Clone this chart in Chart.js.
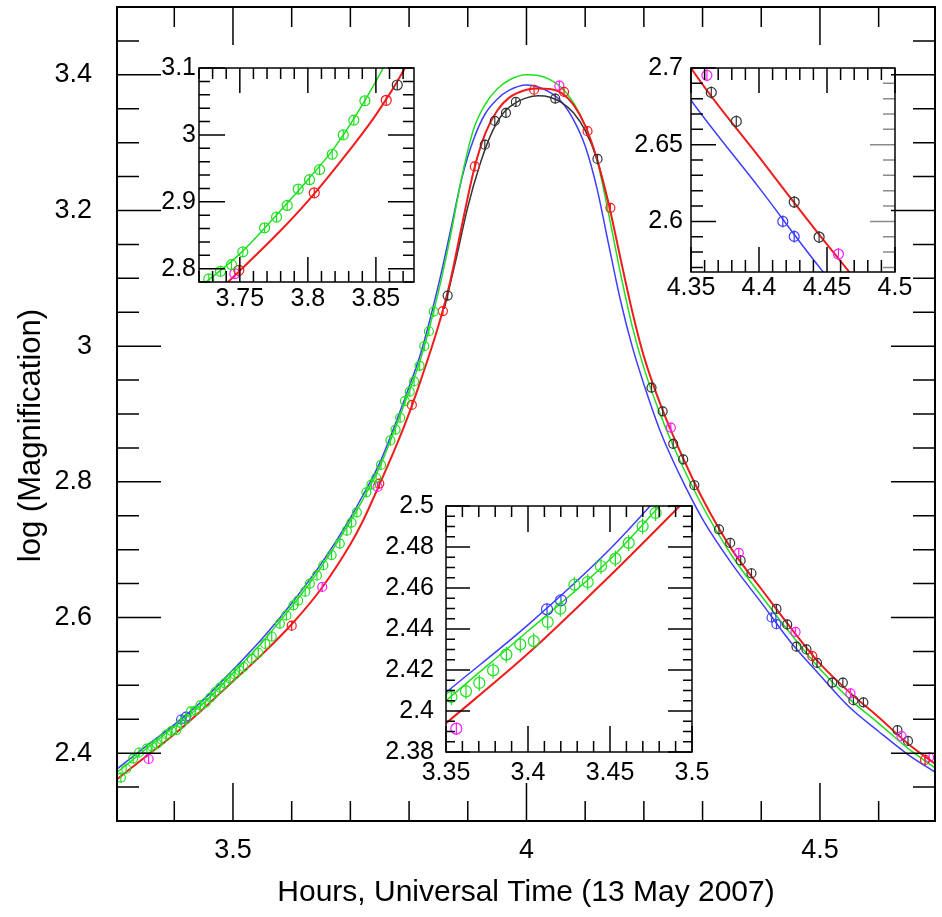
<!DOCTYPE html>
<html>
<head>
<meta charset="utf-8">
<title>log (Magnification)</title>
<script src="https://cdn.jsdelivr.net/npm/chart.js@4.4.1/dist/chart.umd.min.js"></script>
<style>
  body { margin: 0; background: #fff; }
  #plot { position: relative; width: 942px; height: 917px; }
  #plot canvas { position: absolute; }
</style>
</head>
<body>
<div id="plot">
  <canvas id="mainChart" width="942" height="917" style="left:0;top:0"></canvas>
  <canvas id="insetRise" width="282" height="270" style="left:145px;top:48px"></canvas>
  <canvas id="insetFall" width="317" height="260" style="left:625px;top:48px"></canvas>
  <canvas id="insetWing" width="346" height="302" style="left:376px;top:486px"></canvas>
</div>
<script>
// model curves (hours UT -> log magnification)
const tModel = [3.30, 3.35, 3.40, 3.45, 3.50, 3.55, 3.60, 3.65, 3.70, 3.72, 3.75, 3.78, 3.80, 3.82, 3.85,
  3.87, 3.89, 3.91, 3.93, 3.95, 3.97, 4.00, 4.02, 4.04, 4.06, 4.08, 4.10, 4.12, 4.14, 4.16,
  4.18, 4.20, 4.23, 4.26, 4.30, 4.35, 4.40, 4.45, 4.50, 4.55, 4.60, 4.65, 4.70];
const logBlue = [2.375, 2.409, 2.442, 2.479, 2.523, 2.569, 2.621, 2.679, 2.747, 2.778, 2.828, 2.893, 2.940, 2.990, 3.090,
  3.168, 3.248, 3.305, 3.343, 3.364, 3.377, 3.385, 3.382, 3.374, 3.360, 3.334, 3.295, 3.233, 3.150, 3.068,
  3.000, 2.944, 2.870, 2.812, 2.745, 2.679, 2.622, 2.564, 2.515, 2.468, 2.432, 2.398, 2.370];
const logGreen = [2.370, 2.405, 2.439, 2.474, 2.518, 2.564, 2.616, 2.674, 2.742, 2.772, 2.822, 2.887, 2.933, 2.982, 3.080,
  3.160, 3.250, 3.320, 3.357, 3.379, 3.392, 3.400, 3.399, 3.393, 3.381, 3.359, 3.325, 3.275, 3.195, 3.108,
  3.030, 2.968, 2.895, 2.834, 2.764, 2.691, 2.632, 2.576, 2.524, 2.480, 2.444, 2.407, 2.376];
const logRed = [2.360, 2.394, 2.428, 2.466, 2.506, 2.546, 2.590, 2.642, 2.708, 2.740, 2.797, 2.857, 2.901, 2.950, 3.030,
  3.095, 3.178, 3.258, 3.314, 3.347, 3.366, 3.378, 3.380, 3.379, 3.373, 3.356, 3.325, 3.276, 3.210, 3.130,
  3.052, 2.985, 2.910, 2.848, 2.775, 2.700, 2.642, 2.585, 2.532, 2.490, 2.453, 2.414, 2.382];
const tBlack = [3.86, 3.88, 3.90, 3.92, 3.94, 3.96, 3.98, 4.00, 4.02, 4.04, 4.06, 4.08, 4.10, 4.12, 4.14];
const logBlack = [3.055, 3.128, 3.205, 3.266, 3.313, 3.343, 3.358, 3.366, 3.369, 3.367, 3.359, 3.344, 3.318, 3.276, 3.210];

// observations
const tGreenObs = [3.309, 3.318, 3.330, 3.340, 3.3533, 3.3622, 3.3703, 3.3787, 3.3868, 3.3953, 3.4035, 3.4120, 3.4197, 3.4283,
  3.4364, 3.4445, 3.4533, 3.4614, 3.4699, 3.4778, 3.486, 3.495, 3.503, 3.511, 3.518, 3.532, 3.543, 3.555, 3.566, 3.580,
  3.591, 3.603, 3.611, 3.623, 3.631, 3.643, 3.654, 3.668, 3.682, 3.694, 3.702, 3.711, 3.7272, 3.7358, 3.7439, 3.7522,
  3.7682, 3.7770, 3.7848, 3.7929, 3.8012, 3.8086, 3.8179, 3.8260, 3.8338, 3.8419];
const logGreenObs = [2.364, 2.377, 2.392, 2.401, 2.4068, 2.4096, 2.4137, 2.4198, 2.4275, 2.4325, 2.4341, 2.4434, 2.4499, 2.4616,
  2.4629, 2.4706, 2.4743, 2.4820, 2.4901, 2.4966, 2.503, 2.510, 2.516, 2.522, 2.527, 2.539, 2.548, 2.561, 2.572, 2.591,
  2.603, 2.618, 2.625, 2.638, 2.650, 2.662, 2.677, 2.692, 2.709, 2.728, 2.740, 2.755, 2.7846, 2.796, 2.806, 2.825,
  2.861, 2.877, 2.8945, 2.919, 2.933, 2.948, 2.971, 3.000, 3.022, 3.051];
const tRedObs = [3.600, 3.7493, 3.8047, 3.8576, 3.912, 4.013, 4.064, 4.104, 4.143, 4.487, 4.679];
const logRedObs = [2.588, 2.7975, 2.9134, 3.0517, 3.265, 3.378, 3.375, 3.317, 3.204, 2.543, 2.390];
const tMagentaObs = [3.3563, 3.652, 3.7463, 4.056, 4.246, 4.3617, 4.4584, 4.552, 4.639, 4.686];
const logMagentaObs = [2.3914, 2.645, 2.7925, 3.384, 2.880, 2.6952, 2.5787, 2.488, 2.425, 2.394];
const tBlueObs = [3.4116, 3.4201, 4.4175, 4.4259];
const logBlueObs = [2.4496, 2.4540, 2.600, 2.5902];
const tBlackObs = [3.8657, 3.929, 3.946, 3.965, 3.982, 4.049, 4.121, 4.213, 4.232, 4.250, 4.267, 4.286, 4.328, 4.347,
  4.3649, 4.3833, 4.4259, 4.4442, 4.460, 4.477, 4.495, 4.521, 4.539, 4.557, 4.574, 4.632, 4.650];
const logBlackObs = [3.0746, 3.297, 3.332, 3.344, 3.360, 3.365, 3.276, 2.939, 2.904, 2.856, 2.833, 2.795, 2.730, 2.710,
  2.6841, 2.6652, 2.6126, 2.5898, 2.557, 2.553, 2.533, 2.504, 2.504, 2.478, 2.475, 2.434, 2.418];

const RED = '#f01c1c', GREEN = '#1fe01f', BLUE = '#3d3dff', BLACK = '#333333', MAGENTA = '#ff1aff';

Chart.defaults.font.family = "'Liberation Sans', Arial, sans-serif";
Chart.defaults.color = '#000';

// frame with ticks drawn inside the box on all four sides
const frameTicks = {
    id: 'frameTicks',
    afterDatasetsDraw(chart, args, o) {
        const { ctx, chartArea: a } = chart;
        const sx = chart.scales.x, sy = chart.scales.y;
        ctx.save();
        ctx.lineWidth = o.tickWidth;
        ctx.strokeStyle = '#000';
        ctx.beginPath();
        sx.ticks.forEach(t => {
            const p = sx.getPixelForValue(t.value);
            const len = t.label ? o.xMajor : o.xMinor;
            ctx.moveTo(p, a.bottom); ctx.lineTo(p, a.bottom - len);
            ctx.moveTo(p, a.top); ctx.lineTo(p, a.top + len);
        });
        sy.ticks.forEach(t => {
            const p = sy.getPixelForValue(t.value);
            const len = t.label ? o.yMajor : o.yMinor;
            ctx.moveTo(a.left, p); ctx.lineTo(a.left + len, p);
        });
        ctx.stroke();
        ctx.strokeStyle = o.rightColor || '#000';
        ctx.beginPath();
        sy.ticks.forEach(t => {
            const p = sy.getPixelForValue(t.value);
            const len = t.label ? o.yMajor : o.yMinor;
            ctx.moveTo(a.right, p); ctx.lineTo(a.right - len, p);
        });
        ctx.stroke();
        ctx.lineWidth = o.frameWidth;
        ctx.strokeStyle = '#000';
        ctx.strokeRect(a.left, a.top, a.right - a.left, a.bottom - a.top);
        ctx.restore();
    }
};

function pts(ts, vs) {
    return ts.map((t, i) => ({ x: t, y: vs[i] }));
}

function curve(ts, vs, color, width, order) {
    return {
        data: pts(ts, vs), showLine: true, borderColor: color, borderWidth: width,
        pointRadius: 0, cubicInterpolationMode: 'monotone', order: order
    };
}

function dots(ts, vs, color, r, bar) {
    return [
        { data: pts(ts, vs), pointStyle: 'circle', pointRadius: r, pointBorderColor: color,
          pointBackgroundColor: 'rgba(0,0,0,0)', pointBorderWidth: 1.2, order: 0 },
        { data: pts(ts, vs), pointStyle: 'line', pointRotation: 90, pointRadius: bar, pointBorderColor: color,
          pointBorderWidth: 1.2, order: 0 }
    ];
}

function labelEvery(step) {
    return v => {
        const k = v / step;
        return Math.abs(k - Math.round(k)) < 1e-6 ? String(Math.round(v * 1000) / 1000) : '';
    };
}

// keep the plot box exactly where the layout padding puts it
function noEdgePadding(s) {
    s.paddingTop = 0; s.paddingBottom = 0; s.paddingLeft = 0; s.paddingRight = 0;
}

function makeChart(id, o) {
    const datasets = [];
    o.curves.forEach(c => datasets.push(c));
    datasets.push(...dots(tGreenObs, logGreenObs, GREEN, o.r, o.greenBar || o.bar));
    datasets.push(...dots(tRedObs, logRedObs, RED, o.r, o.bar));
    datasets.push(...dots(tMagentaObs, logMagentaObs, MAGENTA, o.r, o.bar));
    datasets.push(...dots(tBlueObs, logBlueObs, BLUE, o.r, o.bar));
    datasets.push(...dots(tBlackObs, logBlackObs, BLACK, o.r, o.bar));

    return new Chart(document.getElementById(id), {
        type: 'scatter',
        data: { datasets: datasets },
        options: {
            responsive: false,
            animation: false,
            events: [],
            layout: { padding: { top: o.padTop, right: o.padRight, left: 0, bottom: 0 } },
            plugins: {
                legend: { display: false },
                tooltip: { enabled: false },
                frameTicks: o.ticks
            },
            scales: {
                x: {
                    type: 'linear', min: o.xMin, max: o.xMax,
                    afterFit: s => { s.height = o.xHeight; noEdgePadding(s); },
                    grid: { display: false, drawTicks: false },
                    border: { display: false },
                    ticks: {
                        stepSize: o.xStep, includeBounds: false, autoSkip: false, maxRotation: 0,
                        padding: o.xPad, font: { size: o.fontSize }, color: '#000',
                        callback: labelEvery(o.xLabelStep)
                    },
                    title: o.xTitle || { display: false }
                },
                y: {
                    type: 'linear', min: o.yMin, max: o.yMax,
                    afterFit: s => { s.width = o.yWidth; noEdgePadding(s); },
                    grid: { display: false, drawTicks: false },
                    border: { display: false },
                    ticks: {
                        stepSize: o.yStep, includeBounds: false, autoSkip: false,
                        padding: o.yPad, font: { size: o.fontSize }, color: '#000',
                        callback: labelEvery(o.yLabelStep)
                    },
                    title: o.yTitle || { display: false }
                }
            }
        },
        plugins: [frameTicks]
    });
}

// main light curve
makeChart('mainChart', {
    curves: [
        curve(tModel, logRed, RED, 2, 1),
        curve(tBlack, logBlack, BLACK, 1.5, 2),
        curve(tModel, logGreen, GREEN, 1.5, 3),
        curve(tModel, logBlue, BLUE, 1.5, 4)
    ],
    r: 4.5, bar: 5,
    padTop: 7, padRight: 7, xHeight: 96, yWidth: 117,
    xMin: 3.3024, xMax: 4.696, xStep: 0.1, xLabelStep: 0.5, xPad: 13,
    yMin: 2.3, yMax: 3.5, yStep: 0.05, yLabelStep: 0.2, yPad: 25,
    fontSize: 27,
    xTitle: { display: true, text: 'Hours, Universal Time (13 May 2007)', font: { size: 30 }, color: '#000', padding: { top: 0, bottom: 6 } },
    // trailing spaces push the rotated title a little lower, as in the original
    yTitle: { display: true, text: 'log (Magnification)\u00a0\u00a0\u00a0\u00a0\u00a0', font: { size: 31 }, color: '#000', padding: { top: 13, bottom: 0 } },
    ticks: { tickWidth: 1.5, frameWidth: 2, xMajor: 38, xMinor: 20, yMajor: 44, yMinor: 22 }
});

// inset: rising side
makeChart('insetRise', {
    curves: [curve(tModel, logRed, RED, 2, 1), curve(tModel, logGreen, GREEN, 1.5, 2)],
    r: 5, bar: 5,
    padTop: 20, padRight: 13, xHeight: 36, yWidth: 54,
    xMin: 3.72, xMax: 3.878, xStep: 0.01, xLabelStep: 0.05, xPad: 2,
    yMin: 2.78, yMax: 3.1, yStep: 0.02, yLabelStep: 0.1, yPad: 3,
    fontSize: 25,
    ticks: { tickWidth: 1.5, frameWidth: 1.5, xMajor: 25, xMinor: 11, yMajor: 26, yMinor: 11 }
});

// inset: falling side
makeChart('insetFall', {
    curves: [curve(tModel, logRed, RED, 2, 1), curve(tModel, logBlue, BLUE, 1.5, 2)],
    r: 5, bar: 6,
    padTop: 20, padRight: 47, xHeight: 36, yWidth: 66,
    xMin: 4.35, xMax: 4.5, xStep: 0.01, xLabelStep: 0.05, xPad: 1,
    yMin: 2.567, yMax: 2.7, yStep: 0.01, yLabelStep: 0.05, yPad: 8,
    fontSize: 25,
    ticks: { tickWidth: 1.5, frameWidth: 1.5, xMajor: 25, xMinor: 12, yMajor: 25, yMinor: 12, rightColor: '#8a8a8a' }
});

// inset: early wing
makeChart('insetWing', {
    curves: [curve(tModel, logRed, RED, 2, 1), curve(tModel, logGreen, GREEN, 1.5, 2), curve(tModel, logBlue, BLUE, 1.5, 3)],
    r: 5.5, bar: 6, greenBar: 8,
    padTop: 20, padRight: 30, xHeight: 36, yWidth: 70,
    xMin: 3.35, xMax: 3.5, xStep: 0.01, xLabelStep: 0.05, xPad: 6,
    yMin: 2.38, yMax: 2.5, yStep: 0.005, yLabelStep: 0.02, yPad: 12,
    fontSize: 25,
    ticks: { tickWidth: 1.5, frameWidth: 1.5, xMajor: 26, xMinor: 11, yMajor: 24, yMinor: 9 }
});
</script>
</body>
</html>
